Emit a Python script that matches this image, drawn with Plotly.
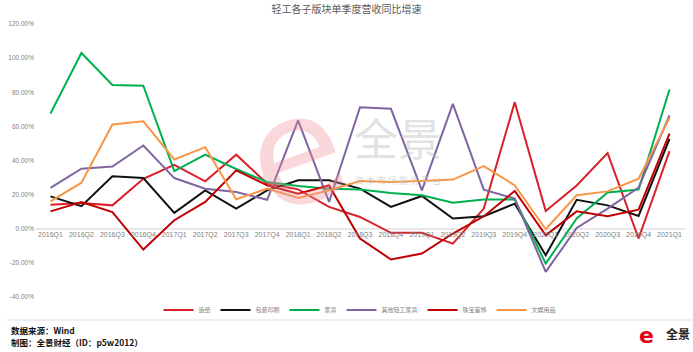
import plotly.graph_objects as go

quarters = ['2016Q1', '2016Q2', '2016Q3', '2016Q4', '2017Q1', '2017Q2', '2017Q3', '2017Q4',
            '2018Q1', '2018Q2', '2018Q3', '2018Q4', '2019Q1', '2019Q2', '2019Q3', '2019Q4',
            '2020Q1', '2020Q2', '2020Q3', '2020Q4', '2021Q1']

zaozhi = [14.1, 15.1, 13.7, 29.3, 37.5, 27.8, 43.4, 26.5, 23.1, 12.8, 6.9, -2.4, -2.4, -8.7,
          11.8, 74.2, 10.4, 25.4, 44.3, -5.7, 45.5]
baozhuang = [19.0, 13.2, 30.7, 29.7, 9.3, 22.5, 11.8, 22.5, 28.4, 28.4, 23.5, 12.8, 19.2, 6.0,
             7.3, 14.7, -15.5, 17.0, 13.7, 7.5, 52.7]
jiaju = [67.5, 103.0, 84.3, 83.8, 33.8, 43.4, 35.0, 27.4, 25.0, 23.5, 23.0, 21.0, 19.6, 15.3,
         17.2, 17.2, -20.4, 6.0, 21.3, 23.0, 81.6]
qita = [23.9, 35.2, 36.5, 48.8, 29.7, 23.5, 21.5, 17.0, 63.5, 15.7, 71.2, 70.3, 22.5, 73.2,
        22.9, 17.7, -25.3, 0.5, 11.8, 24.1, 66.4]
zhubao = [10.2, 15.7, 9.8, -12.2, 5.0, 15.7, 34.2, 25.5, 20.6, 25.4, -5.7, -18.0, -14.5, -2.8,
          7.3, 22.1, -3.8, 10.2, 7.3, 11.2, 55.7]
wenyu = [16.0, 27.0, 61.1, 63.0, 40.6, 47.8, 17.3, 23.5, 18.0, 22.5, 28.0, 27.4, 28.0, 28.8,
         36.7, 25.4, -0.3, 19.6, 21.9, 29.3, 65.0]

series_names = ['造纸', '包装印刷', '家具', '其他轻工家具', '珠宝首饰', '文娱用品']
series_values = [zaozhi, baozhuang, jiaju, qita, zhubao, wenyu]
series_colors = ['#d9202a', '#111111', '#00b050', '#8064a2', '#c00000', '#f79646']

ytick_vals = [-40, -20, 0, 20, 40, 60, 80, 100, 120]
ytick_text = ['-40.00%', '-20.00%', '0.00%', '20.00%', '40.00%', '60.00%', '80.00%', '100.00%', '120.00%']

title_text = '轻工各子版块单季度营收同比增速'
source_text = '数据来源：Wind'
maker_text = '制图：全景财经（ID：p5w2012）'

fig = go.Figure()

# watermark
fig.add_annotation(xref='paper', yref='paper', x=0.40, y=0.53, text='e', showarrow=False,
                   font=dict(family='DejaVu Sans', size=150, color='rgba(240,140,150,0.35)'),
                   textangle=-20)
fig.add_annotation(xref='paper', yref='paper', x=0.559, y=0.585, text='全景', showarrow=False,
                   yanchor='middle',
                   font=dict(family='Noto Sans CJK SC', size=44, color='rgba(190,190,190,0.45)'))
fig.add_annotation(xref='paper', yref='paper', x=0.559, y=0.425, text='资 本 市 场 服 务 平 台', showarrow=False,
                   yanchor='middle',
                   font=dict(family='Noto Sans CJK SC', size=9, color='rgba(190,190,190,0.6)'))

for name, vals, col in zip(series_names, series_values, series_colors):
    fig.add_trace(go.Scatter(x=quarters, y=vals, name=name, mode='lines',
                             line=dict(color=col, width=2)))

fig.update_layout(
    width=693, height=352,
    margin=dict(l=30, r=8, t=24, b=55),
    paper_bgcolor='white', plot_bgcolor='white',
    title=dict(text=title_text, x=0.5, xanchor='center', y=0.972, yanchor='middle',
               font=dict(family='Noto Sans CJK SC', size=10, color='#595959')),
    showlegend=True,
    legend=dict(orientation='h', x=0.5, xanchor='center', y=-0.048, yanchor='middle',
                font=dict(family='Noto Sans CJK SC', size=6, color='#7f7f7f'),
                itemwidth=30, tracegroupgap=0, bgcolor='rgba(0,0,0,0)'),
    xaxis=dict(type='category', categoryorder='array', categoryarray=quarters,
               range=[-0.5, 20.5], anchor='free', position=0.25,
               showline=False, showgrid=False, ticks='', ticklen=0,
               tickfont=dict(family='Liberation Sans', size=7, color='#7f7f7f')),
    yaxis=dict(range=[-40, 120], tickvals=ytick_vals, ticktext=ytick_text,
               showgrid=False, zeroline=True, zerolinecolor='#e8e8e8', zerolinewidth=2,
               showline=False, ticks='',
               tickfont=dict(family='Liberation Sans', size=6.5, color='#7f7f7f')),
)

# separator line
fig.add_shape(type='line', xref='paper', yref='paper', x0=-0.043, x1=1.012,
              y0=-0.084, y1=-0.084, line=dict(color='#eeeeee', width=2))

fig.add_annotation(xref='paper', yref='paper', x=-0.04, y=-0.12, xanchor='left', yanchor='middle',
                   text='<b>' + source_text + '</b>', showarrow=False,
                   font=dict(family='Noto Sans CJK SC', size=8.5, color='#111111'))
fig.add_annotation(xref='paper', yref='paper', x=-0.04, y=-0.165, xanchor='left', yanchor='middle',
                   text='<b>' + maker_text + '</b>', showarrow=False,
                   font=dict(family='Noto Sans CJK SC', size=8.5, color='#111111'))

# bottom-right logo
fig.add_annotation(xref='paper', yref='paper', x=0.955, y=-0.14, xanchor='right', yanchor='middle',
                   text='<b>e</b>', showarrow=False,
                   font=dict(family='DejaVu Sans', size=22, color='#e60012'))
fig.add_annotation(xref='paper', yref='paper', x=1.01, y=-0.135, xanchor='right', yanchor='middle',
                   text='<b>全景</b>', showarrow=False,
                   font=dict(family='Noto Sans CJK SC', size=12, color='#222222'))

fig.write_html('out.html')
